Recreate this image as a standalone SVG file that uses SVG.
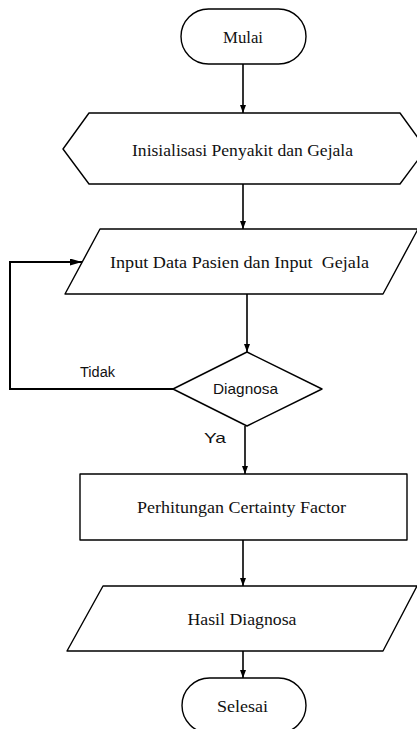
<svg xmlns="http://www.w3.org/2000/svg" width="417" height="729" viewBox="0 0 417 729">
<defs>
<style>
.s{fill:#fff;stroke:#000;stroke-width:1.4;stroke-linejoin:round}
.c{fill:none;stroke:#000;stroke-width:1.6}
.fb{fill:none;stroke:#000;stroke-width:2}
.t{font-family:"Liberation Serif","Times New Roman",serif;font-size:17px;fill:#111;text-anchor:middle}
.a{font-family:"Liberation Sans",Arial,sans-serif;font-size:14px;fill:#111}
</style>
<marker id="ar" viewBox="0 0 8 6" refX="8" refY="3" markerWidth="8" markerHeight="6" markerUnits="userSpaceOnUse" orient="auto">
<path d="M0,0 L8,3 L0,6 z" fill="#000"/>
</marker>
<marker id="arb" viewBox="0 0 12 7" refX="12" refY="3.5" markerWidth="12" markerHeight="7" markerUnits="userSpaceOnUse" orient="auto">
<path d="M0,0 L12,3.5 L0,7 z" fill="#000"/>
</marker>
</defs>
<g id="connectors">
<line class="c" x1="243" y1="64" x2="243" y2="113" marker-end="url(#ar)"/>
<line class="c" x1="243" y1="184" x2="243" y2="229" marker-end="url(#ar)"/>
<line class="c" x1="247" y1="294" x2="247" y2="352" marker-end="url(#ar)"/>
<polyline class="fb" points="173,389 10,389 10,262 82,262" marker-end="url(#arb)"/>
<line class="c" x1="245" y1="426" x2="245" y2="474" marker-end="url(#ar)"/>
<line class="c" x1="243" y1="540" x2="243" y2="586" marker-end="url(#ar)"/>
<line class="c" x1="243" y1="651" x2="243" y2="678" marker-end="url(#ar)"/>
<text class="a" x="80" y="377" textLength="35" lengthAdjust="spacingAndGlyphs">Tidak</text>
<text class="a" x="204" y="443" style="font-size:15px" textLength="22" lengthAdjust="spacingAndGlyphs">Ya</text>
</g>
<g id="mulai">
<rect class="s" x="181" y="9" width="125" height="55" rx="27.5" ry="27.5"/>
<text class="t" x="243" y="43" textLength="40" lengthAdjust="spacingAndGlyphs">Mulai</text>
</g>
<g id="inisialisasi">
<polygon class="s" points="89,113 400,113 426,149 400,184 89,184 63,149"/>
<text class="t" x="242.5" y="156" textLength="221" lengthAdjust="spacingAndGlyphs">Inisialisasi Penyakit dan Gejala</text>
</g>
<g id="input">
<polygon class="s" points="100,229 418,229 383,294 65,294"/>
<text class="t" x="239.5" y="268" textLength="259" lengthAdjust="spacingAndGlyphs" xml:space="preserve">Input Data Pasien dan Input  Gejala</text>
</g>
<g id="diagnosa">
<polygon class="s" points="247,352 322,389 247,426 173,389"/>
<text class="a" x="245.5" y="394" text-anchor="middle" style="font-size:15px" textLength="65" lengthAdjust="spacingAndGlyphs">Diagnosa</text>
</g>
<g id="perhitungan">
<rect class="s" x="80" y="474" width="327" height="66"/>
<text class="t" x="241.5" y="513" textLength="209" lengthAdjust="spacingAndGlyphs">Perhitungan Certainty Factor</text>
</g>
<g id="hasil">
<polygon class="s" points="103,586 417,586 383,651 67,651"/>
<text class="t" x="242" y="625" textLength="109" lengthAdjust="spacingAndGlyphs">Hasil Diagnosa</text>
</g>
<g id="selesai">
<rect class="s" x="182" y="678" width="124" height="55" rx="27.5" ry="27.5"/>
<text class="t" x="242.5" y="712" textLength="51" lengthAdjust="spacingAndGlyphs">Selesai</text>
</g>
</svg>
